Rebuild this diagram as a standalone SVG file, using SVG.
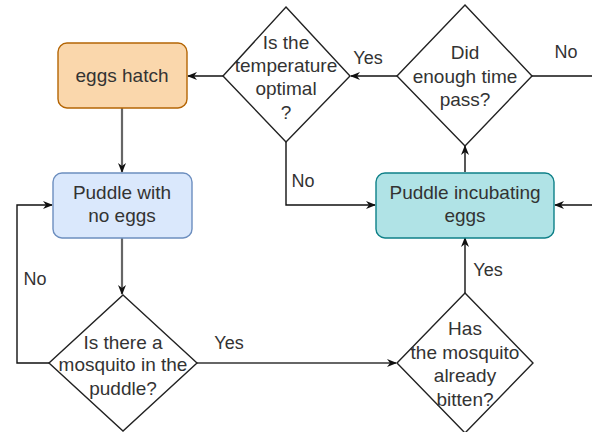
<svg xmlns="http://www.w3.org/2000/svg" width="592" height="432" viewBox="0 0 592 432">
<style>
text{font-family:"Liberation Sans",Arial,sans-serif;font-size:19px;fill:#333;text-anchor:middle}
.lbl{font-size:18px}
.c{fill:none;stroke:#111;stroke-width:1.4;marker-end:url(#ah)}
.n{marker-end:none}
.g{stroke:#666;stroke-width:2.2}
.d{fill:#fff;stroke:#222;stroke-width:1.4}
</style>
<defs>
<marker id="ah" viewBox="0 0 10 8" refX="9" refY="4" markerWidth="10" markerHeight="8" markerUnits="userSpaceOnUse" orient="auto">
<path d="M0,0 L10,4 L0,8 L3,4 z" fill="#111"/>
</marker>
</defs>
<rect width="592" height="432" fill="#fff"/>
<g id="connectors">
<path class="c g" d="M122,108 V172"/>
<path class="c g" d="M122,238 V294"/>
<path class="c g" d="M197,363 H396"/>
<path class="c" d="M49,363 H17 V205 H52"/>
<path class="c" d="M465,293 V238"/>
<path class="c" d="M465,172 V146"/>
<path class="c" d="M397,76 H351"/>
<path class="c" d="M223,76 H188"/>
<path class="c" d="M286,142 V205 H375"/>
<path class="c n" d="M532,76 H592"/>
<path class="c" d="M592,205 H555"/>
<text class="lbl" x="368" y="64">Yes</text>
<text class="lbl" x="566" y="58">No</text>
<text class="lbl" x="303" y="187">No</text>
<text class="lbl" x="488" y="276">Yes</text>
<text class="lbl" x="229" y="349">Yes</text>
<text class="lbl" x="35" y="285">No</text>
</g>
<g id="eggs-hatch">
<rect x="58" y="43" width="129" height="65" rx="9" fill="#fad7ac" stroke="#b46504" stroke-width="1.4"/>
<text x="122" y="82">eggs hatch</text>
</g>
<g id="puddle-no-eggs">
<rect x="53" y="173" width="139" height="65" rx="9" fill="#dae8fc" stroke="#6c8ebf" stroke-width="1.4"/>
<text x="122" y="199">Puddle with</text>
<text x="122" y="222">no eggs</text>
</g>
<g id="puddle-incubating">
<rect x="376" y="173" width="178" height="65" rx="9" fill="#b0e3e6" stroke="#0e8088" stroke-width="1.4"/>
<text x="465" y="199">Puddle incubating</text>
<text x="465" y="222">eggs</text>
</g>
<g id="temperature-optimal">
<path class="d" d="M286,7 L350,76 L286,142 L223,76 Z"/>
<text x="286" y="49">Is the</text>
<text x="286" y="72">temperature</text>
<text x="286" y="95">optimal</text>
<text x="286" y="119">?</text>
</g>
<g id="enough-time">
<path class="d" d="M465,5 L532,76 L465,146 L397,76 Z"/>
<text x="465" y="59">Did</text>
<text x="465" y="83">enough time</text>
<text x="465" y="106">pass?</text>
</g>
<g id="mosquito-in-puddle">
<path class="d" d="M123,295 L197,363 L123,431 L49,363 Z"/>
<text x="123" y="349">Is there a</text>
<text x="123" y="371">mosquito in the</text>
<text x="123" y="395">puddle?</text>
</g>
<g id="mosquito-bitten">
<path class="d" d="M465,293 L533,363 L465,433 L397,363 Z"/>
<text x="465" y="335">Has</text>
<text x="465" y="359">the mosquito</text>
<text x="465" y="382">already</text>
<text x="465" y="406">bitten?</text>
</g>
</svg>
